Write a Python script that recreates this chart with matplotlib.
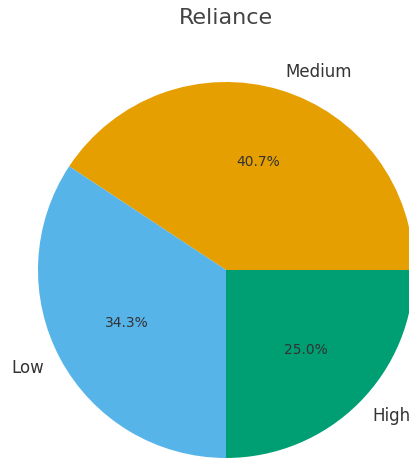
import matplotlib
matplotlib.use("Agg")
import matplotlib.pyplot as plt

labels = ["Medium", "Low", "High"]
shares = [40.7, 34.3, 25.0]
colors = ["#E69F00", "#56B4E9", "#009E73"]

fig = plt.figure(figsize=(4.09, 4.58), dpi=100)
# pie is cropped on the right/bottom edge in the reference
ax = fig.add_axes([0.0929, 0.0, 0.9193, 0.821])

wedges, texts, autotexts = ax.pie(
    shares,
    labels=labels,
    colors=colors,
    autopct="%1.1f%%",
    startangle=0,
    textprops={"fontsize": 12, "color": "#333333"},
)
for t in autotexts:
    t.set_fontsize(10)
    t.set_color("#333333")

ax.set_xlim(-1.0, 1.0)
ax.set_ylim(-1.0, 1.0)
ax.set_aspect("equal")

fig.text(226 / 409, 1 - 18 / 458, "Reliance", ha="center", va="center",
         fontsize=16, color="#444444")

fig.savefig("out.png", dpi=100)
